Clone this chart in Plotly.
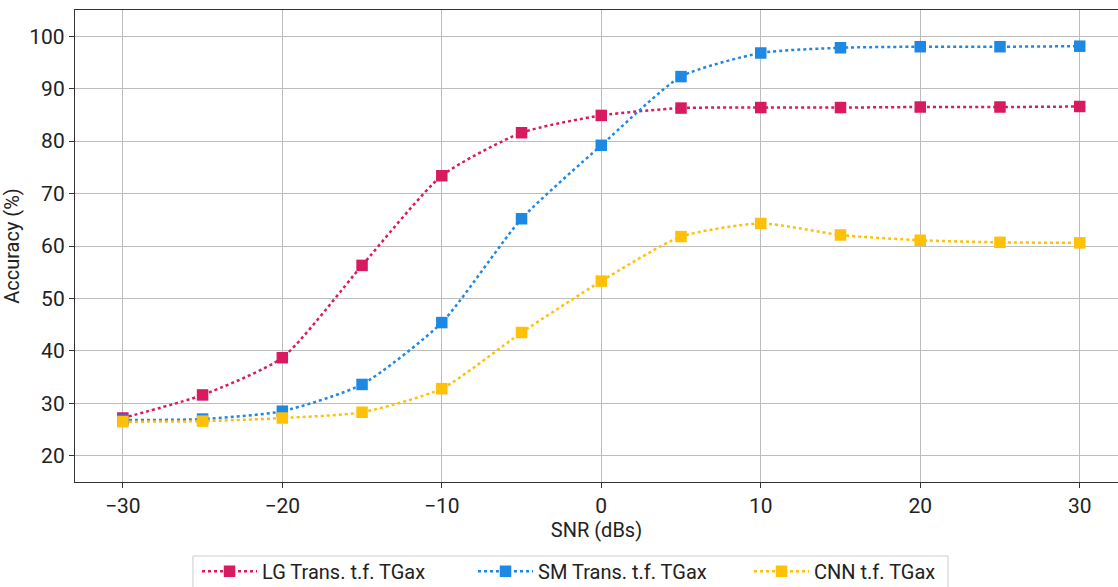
import plotly.graph_objects as go

snr = [-30, -25, -20, -15, -10, -5, 0, 5, 10, 15, 20, 25, 30]
lg_trans = [27.2, 31.6, 38.7, 56.3, 73.4, 81.6, 84.9, 86.3, 86.4, 86.4, 86.5, 86.5, 86.6]
sm_trans = [26.8, 27.0, 28.5, 33.6, 45.4, 65.2, 79.2, 92.3, 96.8, 97.8, 98.0, 98.0, 98.1]
cnn = [26.5, 26.6, 27.2, 28.3, 32.8, 43.5, 53.3, 61.8, 64.3, 62.1, 61.1, 60.7, 60.6]

names = ["LG Trans. t.f. TGax", "SM Trans. t.f. TGax", "CNN t.f. TGax"]
colors = ["#D81B60", "#1E88E5", "#FFC107"]
series = [lg_trans, sm_trans, cnn]

fig = go.Figure()
for name, col, ys in zip(names, colors, series):
    fig.add_trace(go.Scatter(
        x=snr, y=ys, name=name, mode="lines+markers",
        line=dict(color=col, width=2.5, dash="dot", shape="spline", smoothing=0.6),
        marker=dict(symbol="square", size=11.5, color=col),
    ))

# legend frame
fig.add_shape(type="rect", xref="paper", yref="paper",
              x0=0.1131, x1=0.837, y0=-0.25, y1=-0.1568,
              line=dict(color="#cccccc", width=1), fillcolor="rgba(0,0,0,0)", layer="above")

font = "Roboto, Arial, sans-serif"
fig.update_layout(
    width=1118, height=587,
    margin=dict(l=75, r=0, t=10, b=105, autoexpand=False),
    paper_bgcolor="white", plot_bgcolor="white",
    font=dict(family=font, size=21, color="#222"),
    xaxis=dict(
        range=[-33, 32.4], tickvals=[-30, -20, -10, 0, 10, 20, 30],
        ticktext=["\u221230", "\u221220", "\u221210", "0", "10", "20", "30"],
        showgrid=True, gridcolor="#bdbdbd", gridwidth=1,
        showline=True, linecolor="#333", linewidth=1.2, mirror=True,
        ticks="outside", ticklen=5, tickcolor="#333",
        zeroline=False,
        title=dict(text="SNR (dBs)", font=dict(size=20), standoff=4),
    ),
    yaxis=dict(
        range=[15, 105], tickvals=[20, 30, 40, 50, 60, 70, 80, 90, 100],
        showgrid=True, gridcolor="#bdbdbd", gridwidth=1,
        showline=True, linecolor="#333", linewidth=1.2, mirror=True,
        ticks="outside", ticklen=5, tickcolor="#333",
        zeroline=False,
        title=dict(text="Accuracy (%)", font=dict(size=20), standoff=4),
    ),
    legend=dict(
        orientation="h", x=0.117, xanchor="left", y=-0.148, yanchor="top",
        borderwidth=0, bgcolor="rgba(0,0,0,0)",
        font=dict(size=20), itemwidth=55, entrywidth=206,
    ),
)

fig.write_html("out.html")
